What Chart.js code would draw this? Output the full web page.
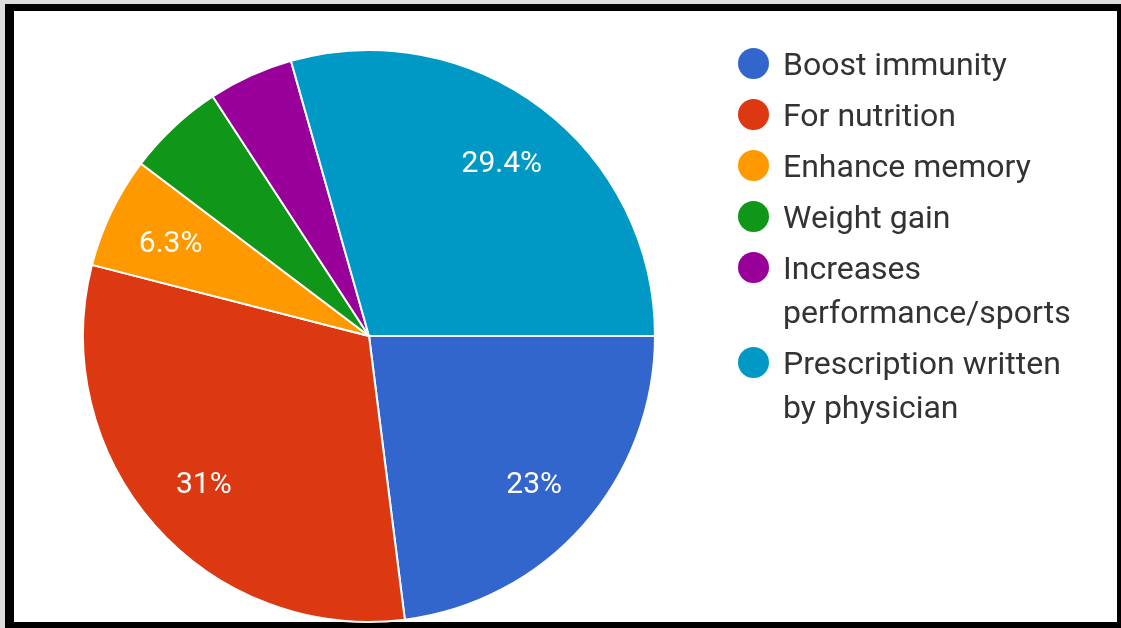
<!DOCTYPE html>
<html>
<head>
<meta charset="utf-8">
<script src="https://cdn.jsdelivr.net/npm/chart.js@4/dist/chart.umd.min.js"></script>
<style>
  html, body { margin: 0; padding: 0; }
  body { width: 1121px; height: 628px; background: #dcdcdc; position: relative; overflow: hidden; font-family: Roboto, "Noto Sans", sans-serif; }
  #frame { position: absolute; left: 5px; top: 4px; right: 0; bottom: 0; border-style: solid; border-color: #000; border-width: 7px 4px 6px 9px; background: #fff; }
  #wrap { position: absolute; left: 0; top: 0; width: 1121px; height: 628px; }
  #legend { position: absolute; left: 738px; top: 42px; margin: 0; padding: 0; list-style: none; }
  #legend li { display: flex; align-items: flex-start; margin-bottom: 7px; }
  #legend .dot { width: 31px; height: 31px; border-radius: 50%; flex: none; margin-top: 6px; margin-right: 14px; }
  #legend .txt { font-size: 32px; line-height: 44px; color: #333; white-space: pre; }
</style>
</head>
<body>
<div id="frame"></div>
<div id="wrap"><canvas id="c" width="1121" height="628"></canvas></div>
<ul id="legend"></ul>
<script>
const categories = ["Boost immunity", "For nutrition", "Enhance memory", "Weight gain", "Increases\nperformance/sports", "Prescription written\nby physician"];
const values = [23, 31, 6.3, 5.5, 4.8, 29.4];
const sliceLabels = ["23%", "31%", "6.3%", "", "", "29.4%"];
const colors = ["#3366cc", "#dc3912", "#ff9900", "#109618", "#990099", "#0099c6"];

const sliceLabelPlugin = {
  id: 'sliceLabels',
  afterDatasetsDraw(chart) {
    const ctx = chart.ctx;
    const meta = chart.getDatasetMeta(0);
    ctx.save();
    ctx.fillStyle = '#ffffff';
    ctx.font = '30px Roboto';
    ctx.textAlign = 'center';
    ctx.textBaseline = 'middle';
    meta.data.forEach((arc, i) => {
      const txt = sliceLabels[i];
      if (!txt) return;
      const p = arc.getProps(['x', 'y', 'startAngle', 'endAngle', 'outerRadius'], true);
      const a = (p.startAngle + p.endAngle) / 2;
      const r = p.outerRadius * 0.77;
      ctx.fillText(txt, p.x + Math.cos(a) * r, p.y + Math.sin(a) * r + 4);
    });
    ctx.restore();
  }
};

const chart = new Chart(document.getElementById('c'), {
  type: 'pie',
  data: {
    labels: categories,
    datasets: [{
      data: values,
      backgroundColor: colors,
      borderColor: '#ffffff',
      borderWidth: 2
    }]
  },
  options: {
    responsive: false,
    animation: false,
    rotation: 90,
    layout: { padding: { left: 82, top: 49, right: 465, bottom: 5 } },
    plugins: {
      legend: { display: false },
      tooltip: { enabled: false }
    }
  },
  plugins: [sliceLabelPlugin]
});

const legend = document.getElementById('legend');
chart.data.labels.forEach((lab, i) => {
  const li = document.createElement('li');
  const dot = document.createElement('span');
  dot.className = 'dot';
  dot.style.background = chart.data.datasets[0].backgroundColor[i];
  const t = document.createElement('span');
  t.className = 'txt';
  t.textContent = lab;
  li.appendChild(dot);
  li.appendChild(t);
  legend.appendChild(li);
});
</script>
</body>
</html>
